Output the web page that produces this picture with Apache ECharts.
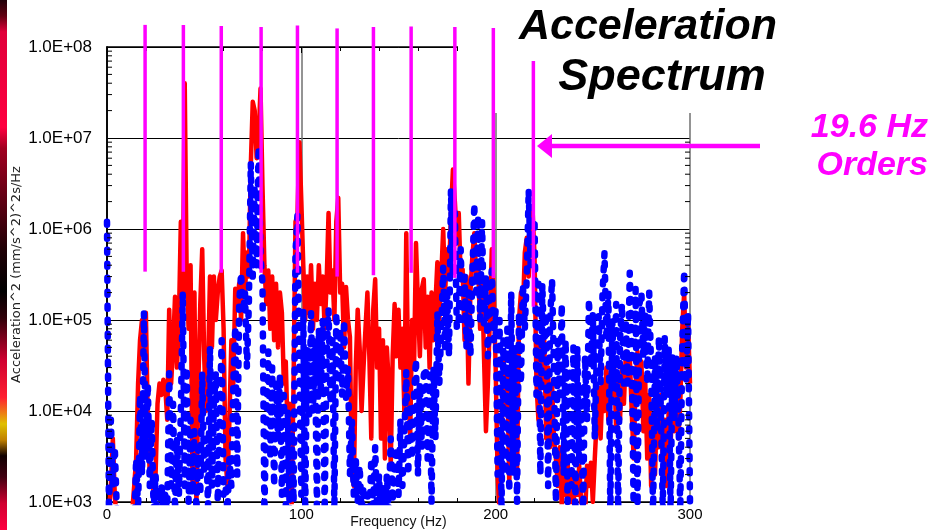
<!DOCTYPE html>
<html>
<head>
<meta charset="utf-8">
<title>Acceleration Spectrum</title>
<script src="https://cdn.jsdelivr.net/npm/echarts@6/dist/echarts.min.js"></script>
<style>
  html, body { margin: 0; padding: 0; background: #fff; }
  #chart { width: 935px; height: 530px; }
</style>
</head>
<body>
<div id="chart"></div>
<script>
// Spectrum bins: one value per Hz, starting at 0 Hz.
const binWidthHz = 1;

// PSD of the red channel, (mm/s^2)^2 s/Hz
const redPsd = [
  500, 800, 1500, 5000, 1200, 600, 500, 500, 500, 500,            // 0
  500, 500, 500, 800, 1500, 3000, 2e4, 6e4, 1e5, 5e4,              // 10
  1.2e5, 8e3, 2e3, 2.5e3, 1.2e3, 2e3, 1.2e4, 2e4, 1.5e4, 2.2e4,    // 20
  1.8e4, 8e3, 1.3e5, 2e4, 5e4, 1.8e5, 3e4, 1e5, 1.2e6, 2e5,        // 30
  4e7, 3e5, 8e4, 4e5, 1.5e3, 2e5, 900, 2e4, 1.5e5, 6e5,            // 40
  4e4, 1e4, 3e4, 3e5, 5e4, 3e5, 1e5, 2e5, 3e5, 3.5e5,              // 50
  8e4, 3e3, 1.5e3, 8e3, 6e4, 2e4, 2.2e5, 1.5e5, 2.5e5, 1e5,        // 60
  9e5, 2e5, 5.5e5, 3e5, 5e6, 2.5e7, 2e7, 6e6, 1e7, 3.5e7,          // 70
  3e6, 4e5, 1.5e5, 3.5e5, 8e4, 3e5, 6e4, 2.5e5, 5e4, 2e5,          // 80
  1.2e5, 2e4, 3.5e4, 5e3, 1.2e4, 900, 2e4, 1.2e6, 1.4e6, 9e6,      // 90
  2e6, 4e5, 1e5, 3e5, 1.2e5, 4e5, 8e4, 2.5e5, 1e5, 4e5,            // 100
  1.5e5, 3e5, 8e4, 2.5e5, 1.5e6, 2e5, 3.5e5, 1e5, 1.2e6, 2.2e6,    // 110
  2e5, 2.5e5, 5e4, 2.3e5, 1e5, 6.5e4, 2e3, 1.5e3, 3e4, 1.3e5,      // 120
  5e4, 1e4, 3e4, 8e4, 2e5, 4e4, 5e3, 1.3e5, 2.8e5, 3e4,            // 130
  8e4, 5e3, 6e4, 3e3, 5e4, 2e4, 2.5e3, 4e4, 1.5e5, 4e4,            // 140
  1.3e5, 3e4, 8e4, 1e4, 9e5, 2e4, 5e3, 1e5, 3e4, 7e5,              // 150
  1.5e5, 4e4, 2.2e5, 2.8e5, 5e4, 1.8e5, 3e4, 2e5, 6e4, 1.5e5,      // 160
  4.3e5, 1e5, 3e5, 1e6, 2e5, 6e5, 3e5, 1.5e6, 4.5e6, 2e6,          // 170
  8e5, 1.5e6, 3e5, 3.6e5, 6e4, 3e5, 2e4, 2e5, 5e5, 9e5,            // 180
  3e5, 4e5, 8e4, 3e5, 4e4, 6e3, 2e4, 1e5, 6e5, 2e5,                // 190
  3e4, 2e3, 800, 3e3, 4.5e4, 1e4, 3e4, 1.5e3, 2e4, 8e3,            // 200
  4e4, 2e3, 1e5, 2e5, 1.2e5, 5.5e5, 8e5, 3e5, 1e6, 1.6e6,          // 210
  5e5, 2e4, 8e3, 6e4, 2e4, 6e4, 5e3, 3e4, 4e3, 2e4,                // 220
  5e3, 3e3, 1.5e3, 4e3, 900, 2e3, 1.2e3, 3e3, 800, 2e3,            // 230
  900, 2e3, 1.2e3, 2.5e3, 1e3, 800, 700, 2.5e3, 1.5e3, 2.7e3,      // 240
  1e3, 3e3, 8e3, 1.8e4, 5e3, 2e4, 1e4, 3e4, 8e3, 2.5e4,            // 250
  1.5e4, 3e4, 6e3, 2.5e4, 8e3, 3e4, 1.2e4, 4.5e4, 2e4, 4e4,        // 260
  1e4, 3e3, 2e4, 4.5e4, 1.5e4, 3.5e4, 6e3, 2e4, 3e3, 1.5e4,        // 270
  1.5e3, 8e3, 2e3, 1.2e4, 4e3, 1.5e4, 3e3, 8e3, 1.5e3, 1e4,        // 280
  4e3, 1.8e4, 6e3, 2e4, 5e3, 1.2e4, 8e4, 2e5, 3e4, 9e4,            // 290
  2e4                                                              // 300
];

// PSD of the blue channel, (mm/s^2)^2 s/Hz
const bluePsd = [
  1.2e6, 800, 8e3, 1.5e3, 4e3, 900, 500, 500, 500, 500,            // 0
  500, 500, 500, 500, 500, 3e3, 800, 1.5e4, 2e3, 1.2e5,            // 10
  3e3, 2e4, 1.5e3, 8e3, 800, 2e3, 500, 500, 1.5e3, 900,            // 20
  1.2e3, 800, 2.6e4, 1.5e3, 1.2e4, 800, 5e3, 1.2e3, 1e4, 2e5,      // 30
  1.5e3, 3e4, 1e3, 8e3, 1.2e3, 6e3, 800, 4e3, 1.2e3, 2.6e4,        // 40
  2e3, 5e3, 900, 5e4, 1.5e3, 1.2e4, 2.6e4, 1e3, 8e3, 6e4,          // 50
  1.2e3, 1.5e3, 800, 3e3, 1.5e3, 2e4, 8.5e4, 2e3, 1.5e5, 3.3e5,    // 60
  1.2e5, 2e5, 3e4, 1.5e5, 5.3e6, 3e5, 3e6, 4e5, 8e6, 5e5,          // 70
  2.6e5, 800, 1e4, 4.5e4, 3e3, 3e4, 1.5e3, 2e4, 5e3, 2.5e4,        // 80
  1.2e3, 1.5e4, 900, 1e4, 800, 6e3, 1e3, 5.5e5, 1.4e6, 3e4,        // 90
  1.2e3, 1.3e5, 800, 5e4, 8e3, 1.2e5, 1e4, 6e4, 900, 8e4,          // 100
  1.5e4, 1e5, 800, 4e4, 1.3e5, 1.2e4, 6e4, 800, 1.2e5, 2e4,        // 110
  8e4, 1.5e4, 1e5, 1.4e4, 3e4, 2e3, 8e3, 1.2e3, 3e3, 1e3,          // 120
  2.5e3, 800, 1.5e3, 500, 1.2e3, 600, 3e3, 900, 4e3, 800,          // 130
  2e3, 500, 1.5e3, 600, 2e3, 800, 5e3, 1e3, 3e3, 4e3,              // 140
  1.2e3, 8e3, 1.5e3, 5e3, 2.7e4, 2e3, 1.2e4, 3e3, 1.5e4, 3.7e4,    // 150
  2e3, 2e4, 4e3, 2.5e4, 3e4, 3e3, 2.5e4, 1e3, 3e4, 5e3,            // 160
  1.2e5, 2e4, 8e4, 3.8e5, 5e4, 2e5, 4e4, 2.7e6, 3e5, 1.5e6,        // 170
  8e4, 1e5, 6e5, 1e5, 3e5, 5e4, 2e5, 4e4, 3e5, 1.9e6,              // 180
  2e5, 1.4e6, 1e5, 1.2e6, 8e4, 3e5, 4e4, 2e5, 3.5e5, 6e4,          // 190
  1.3e5, 2e3, 1e5, 800, 6e4, 2e3, 8e4, 1.3e3, 2e5, 2e3,            // 200
  5e4, 1e3, 1.2e5, 2e4, 2.5e5, 8e4, 3e5, 2.7e6, 4e5, 1e6,          // 210
  1.3e6, 1.5e4, 2.5e5, 2e3, 2.5e5, 4e4, 1.2e5, 1.5e3, 1e5, 2.8e5,  // 220
  3e4, 1e3, 6e4, 1.5e4, 1.5e5, 2e3, 6e4, 1e3, 3e4, 1.5e3,          // 230
  5e4, 800, 5e4, 3e3, 2e4, 600, 4e4, 8e3, 1.7e5, 3e4,              // 240
  1.2e5, 5e3, 4e4, 1.1e5, 2e4, 2e5, 5.5e5, 6e4, 2e5, 700,          // 250
  1e5, 2e4, 1.5e5, 700, 6e4, 1.5e5, 2e4, 1e5, 2e4, 3.3e5,          // 260
  5e4, 800, 2.2e5, 900, 1.5e5, 2e5, 4e4, 1.2e5, 2e4, 2e5,          // 270
  3e4, 700, 4e4, 6e3, 6.5e4, 1e4, 800, 6.5e4, 1.5e4, 5e4,          // 280
  700, 4e4, 8e3, 4e4, 1e4, 800, 5e4, 3.5e5, 2e4, 1.2e5,            // 290
  1e3                                                              // 300
];

// Shaft order markers (19.6 Hz family): frequency, upper and lower end
const orderFreqs  = [19.6, 39.3, 58.8, 79.3, 98.0, 118.4, 137.1, 156.5, 179.0, 198.8, 219.4];
const orderTop    = [1.75e8, 1.75e8, 1.7e8, 1.66e8, 1.72e8, 1.6e8, 1.66e8, 1.68e8, 1.66e8, 1.62e8, 7.0e7];
const orderBottom = [3.4e5, 3.4e5, 3.3e5, 3.3e5, 3.3e5, 3.0e5, 3.1e5, 3.3e5, 2.9e5, 2.9e5, 1.4e5];

const yTickLabels = ['1.0E+03', '1.0E+04', '1.0E+05', '1.0E+06', '1.0E+07', '1.0E+08'];
const xTickLabels = ['0', '100', '200', '300'];

const toPairs = arr => arr.map((v, i) => [i * binWidthHz, v]);

// minor ticks of the log axis at 2..9 x 10^n
const minorTickValues = [];
for (let d = 3; d < 8; d++) {
  for (let m = 2; m <= 9; m++) minorTickValues.push([m * Math.pow(10, d)]);
}

const FONT = '"Liberation Sans", Arial, Helvetica, sans-serif';
const MAGENTA = '#ff00ff';

const chart = echarts.init(document.getElementById('chart'), null, { renderer: 'canvas' });

const xCommon = {
  type: 'value', min: 0, max: 300, interval: 100,
  axisLine: { show: true, lineStyle: { color: '#000', width: 1.5 } },
  axisTick: { show: true, inside: true, length: 6, lineStyle: { color: '#000', width: 1 } },
  minorTick: { show: true, splitNumber: 5, length: 4, lineStyle: { color: '#000', width: 1 } }
};

chart.setOption({
  animation: false,
  backgroundColor: '#fff',
  grid: { left: 107, right: 245, top: 47, bottom: 28, show: false, containLabel: false, outerBoundsMode: 'none' },
  xAxis: [
    Object.assign({}, xCommon, {
      position: 'bottom',
      name: 'Frequency (Hz)', nameLocation: 'middle', nameGap: 13, nameMoveOverlap: false,
      nameTextStyle: { fontFamily: FONT, fontSize: 14, color: '#111', verticalAlign: 'top' },
      axisLabel: {
        show: true, margin: 5, fontFamily: FONT, fontSize: 15, color: '#000',
        formatter: v => xTickLabels[Math.round(v / 100)]
      },
      splitLine: { show: true, lineStyle: { color: '#707070', width: 1.5 } }
    }),
    Object.assign({}, xCommon, {
      position: 'top',
      axisLabel: { show: false },
      splitLine: { show: false }
    })
  ],
  yAxis: [
    {
      type: 'log', logBase: 10, min: 1e3, max: 1e8, splitNumber: 5,
      position: 'left',
      name: 'Acceleration^2 (mm/s^2)^2s/Hz', nameLocation: 'middle', nameRotate: 90,
      nameGap: 90, nameMoveOverlap: false,
      nameTextStyle: { fontFamily: '"DejaVu Sans", sans-serif', fontSize: 13, color: '#222', verticalAlign: 'middle' },
      axisLine: { show: true, lineStyle: { color: '#000', width: 1.5 } },
      axisTick: { show: false },
      axisLabel: {
        margin: 15, fontFamily: FONT, fontSize: 17, color: '#000',
        formatter: v => yTickLabels[Math.round(Math.log10(v)) - 3]
      },
      splitLine: { show: true, lineStyle: { color: '#000', width: 1 } }
    },
    {
      type: 'log', logBase: 10, min: 1e3, max: 1e8, splitNumber: 5,
      position: 'right',
      axisLine: { show: true, lineStyle: { color: '#000', width: 1.5 } },
      axisTick: { show: false },
      axisLabel: { show: false },
      splitLine: { show: false }
    }
  ],
  series: [
    {
      name: 'red', type: 'line', data: toPairs(redPsd),
      xAxisIndex: 0, yAxisIndex: 0,
      showSymbol: false, symbol: 'none', clip: true, z: 2,
      lineStyle: { color: '#ff0000', width: 4.5, join: 'round' }
    },
    {
      name: 'blue', type: 'line', data: toPairs(bluePsd),
      xAxisIndex: 0, yAxisIndex: 0,
      showSymbol: false, symbol: 'none', clip: true, z: 3,
      lineStyle: { color: '#0000ff', width: 6.5, type: [3, 11], cap: 'round', join: 'round' }
    },
    {
      // log minor ticks on both vertical axes
      name: 'minorTicks', type: 'custom', data: minorTickValues,
      xAxisIndex: 0, yAxisIndex: 0, clip: false, z: 4, silent: true,
      encode: { y: 0 },
      renderItem: (params, api) => {
        const v = api.value(0);
        const l = api.coord([0, v]);
        const r = api.coord([300, v]);
        const st = { stroke: '#000', lineWidth: 1 };
        return {
          type: 'group',
          children: [
            { type: 'line', shape: { x1: l[0], y1: l[1], x2: l[0] + 5, y2: l[1] }, style: st },
            { type: 'line', shape: { x1: r[0] - 5, y1: r[1], x2: r[0], y2: r[1] }, style: st }
          ]
        };
      }
    },
    {
      // order lines
      name: 'orders', type: 'custom',
      data: orderFreqs.map((f, i) => [f, orderTop[i], orderBottom[i]]),
      xAxisIndex: 0, yAxisIndex: 0, clip: false, z: 100, silent: true,
      encode: { x: 0, y: [1, 2] },
      renderItem: (params, api) => {
        const a = api.coord([api.value(0), api.value(1)]);
        const b = api.coord([api.value(0), api.value(2)]);
        return {
          type: 'line',
          shape: { x1: a[0], y1: a[1], x2: b[0], y2: b[1] },
          style: { stroke: MAGENTA, lineWidth: 3.5 }
        };
      }
    }
  ],
  graphic: [
    {
      // strip of the slide background at the left edge
      type: 'rect', z: 1,
      shape: { x: 0, y: 0, width: 7, height: 530 },
      style: {
        fill: new echarts.graphic.LinearGradient(0, 0, 0, 1, [
          { offset: 0.00, color: '#200008' },
          { offset: 0.03, color: '#600010' },
          { offset: 0.06, color: '#e0003a' },
          { offset: 0.24, color: '#ff0040' },
          { offset: 0.28, color: '#a00020' },
          { offset: 0.40, color: '#500010' },
          { offset: 0.47, color: '#200005' },
          { offset: 0.55, color: '#000000' },
          { offset: 0.60, color: '#300008' },
          { offset: 0.68, color: '#d00030' },
          { offset: 0.75, color: '#ff2030' },
          { offset: 0.80, color: '#e0c000' },
          { offset: 0.83, color: '#c08000' },
          { offset: 0.86, color: '#100000' },
          { offset: 0.90, color: '#400010' },
          { offset: 0.95, color: '#d00030' },
          { offset: 1.00, color: '#ff0040' }
        ])
      }
    },
    {
      // title panel
      type: 'rect', z: 50,
      shape: { x: 458, y: 0, width: 477, height: 113 },
      style: { fill: '#fff' }
    },
    {
      type: 'text', z: 60, x: 648, y: 27,
      style: { text: 'Acceleration', font: 'italic bold 43px ' + FONT, fill: '#000', align: 'center', verticalAlign: 'middle' }
    },
    {
      type: 'text', z: 60, x: 662, y: 78,
      style: { text: 'Spectrum', font: 'italic bold 45px ' + FONT, fill: '#000', align: 'center', verticalAlign: 'middle' }
    },
    {
      type: 'text', z: 60, x: 928, y: 128,
      style: { text: '19.6 Hz', font: 'italic bold 34px ' + FONT, fill: MAGENTA, align: 'right', verticalAlign: 'middle' }
    },
    {
      type: 'text', z: 60, x: 928, y: 166,
      style: { text: 'Orders', font: 'italic bold 34px ' + FONT, fill: MAGENTA, align: 'right', verticalAlign: 'middle' }
    },
    {
      type: 'line', z: 100,
      shape: { x1: 548, y1: 146, x2: 760, y2: 146 },
      style: { stroke: MAGENTA, lineWidth: 4.5 }
    },
    {
      type: 'polygon', z: 100,
      shape: { points: [[537, 146], [552, 134], [552, 158]] },
      style: { fill: MAGENTA }
    }
  ]
});
</script>
</body>
</html>
